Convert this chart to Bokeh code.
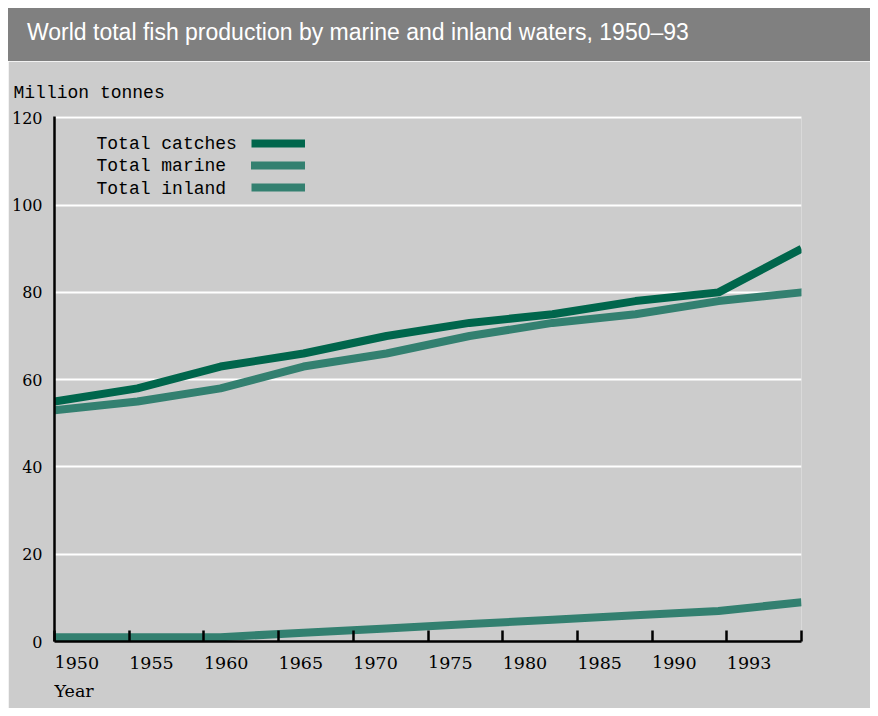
from bokeh.plotting import figure
from bokeh.models import (FixedTicker, Label, Legend, LegendItem, Div, ColumnDataSource, Title)
from bokeh.layouts import column
from bokeh.embed import file_html
from bokeh.resources import INLINE
import numpy as np

# ---- data ----
title_text = "World total fish production by marine and inland waters, 1950\u201393"
data_years = ["1950", "1955", "1960", "1965", "1970", "1975", "1980", "1985", "1990", "1993"]
total_catches = [55, 58, 63, 66, 70, 73, 75, 78, 80, 90]
total_marine = [53, 55, 58, 63, 66, 70, 73, 75, 78, 80]
total_inland = [1, 1, 1, 2, 3, 4, 5, 6, 7, 9]
tick_labels = ["1950", "1955", "1960", "1965", "1970", "1975", "1980", "1985", "1990", "1993", ""]
y_ticks = [0, 20, 40, 60, 80, 100, 120]
series_names = ["Total catches", "Total marine", "Total inland"]

BG = "#cccccc"
C_CATCH = "#00664c"
C_MARINE = "#338070"
MONO = "Liberation Mono"
SERIF = "DejaVu Serif"

x_idx = list(range(len(data_years)))
src = ColumnDataSource(dict(x=x_idx, catches=total_catches, marine=total_marine, inland=total_inland))

fig = figure(width=862, height=647, output_backend="svg", toolbar_location=None,
             x_range=(0, len(data_years) - 1), y_range=(0, 120.3),
             background_fill_color=BG, border_fill_color=BG, outline_line_color=None,
             min_border_left=45, min_border_right=69, min_border_top=55, min_border_bottom=67,
             margin=0)

r_catch = fig.line("x", "catches", source=src, line_color=C_CATCH, line_width=8)
r_marine = fig.line("x", "marine", source=src, line_color=C_MARINE, line_width=8,
                    line_cap="round", line_join="round")
r_inland = fig.line("x", "inland", source=src, line_color=C_MARINE, line_width=8)

# title over the y axis: "Million tonnes"
fig.title.text = "Million tonnes"
fig.title.align = "left"
fig.title.offset = -41
fig.title.text_font = MONO
fig.title.text_font_size = "18px"
fig.title.text_font_style = "normal"
fig.title.text_color = "black"
fig.title.standoff = 27

# grid
fig.xgrid.visible = False
fig.ygrid.ticker = FixedTicker(ticks=y_ticks)
fig.ygrid.grid_line_color = "white"
fig.ygrid.grid_line_width = 2
fig.ygrid.level = "underlay"

# y axis
ya = fig.yaxis[0]
ya.ticker = FixedTicker(ticks=y_ticks)
ya.axis_line_color = "black"
ya.axis_line_width = 2.5
ya.major_tick_in = 0
ya.major_tick_out = 0
ya.minor_tick_line_color = None
ya.major_label_standoff = 12
ya.major_label_text_font = SERIF
ya.major_label_text_font_size = "16px"
ya.major_label_text_color = "black"
ya.major_label_text_baseline = "top"

# x axis: labels left-aligned at the ticks (tiny negative orientation)
x_tick_pos = [float(v) for v in np.linspace(0, len(data_years) - 1, len(tick_labels))]
xa = fig.xaxis[0]
xa.ticker = FixedTicker(ticks=x_tick_pos)
xa.major_label_overrides = {pos: lab for pos, lab in zip(x_tick_pos, tick_labels)}
xa.major_label_orientation = -0.0001
xa.axis_line_color = "black"
xa.axis_line_width = 2.5
xa.major_tick_line_color = "black"
xa.major_tick_line_width = 2.5
xa.major_tick_in = 11
xa.major_tick_out = 0
xa.minor_tick_line_color = None
xa.major_label_standoff = 21
xa.major_label_text_font = SERIF
xa.major_label_text_font_size = "17.5px"
xa.major_label_text_color = "black"

fig.add_layout(Title(text="Year", align="left", text_font=SERIF, text_font_size="17.5px",
                     text_font_style="normal", text_color="black", standoff=2), "below")

# legend: swatches from legend, texts to the left
legend = Legend(items=[LegendItem(label=" ", renderers=[r]) for r in
                       [r_catch, r_marine, r_inland]],
                location=(197, 444), padding=0, margin=0, spacing=2,
                glyph_width=54, glyph_height=20, label_height=20, label_width=0,
                label_standoff=0, label_text_font=MONO, label_text_font_size="18px",
                background_fill_alpha=0, border_line_color=None)
fig.add_layout(legend)
for n, yy in zip(series_names, [114.0, 108.9, 103.8]):
    fig.add_layout(Label(x=0.506, y=yy, text=n, text_align="left", text_baseline="alphabetic",
                         text_font=MONO, text_font_size="18px", text_color="black"))

title_div = Div(text=('<div style="width:862px;height:53px;box-sizing:border-box;'
                      'background:#808080;color:white;font-family:\'Liberation Sans Narrow\','
                      '\'Liberation Sans\',sans-serif;font-size:23px;line-height:48px;'
                      'padding-left:19px;white-space:nowrap;">' + title_text + '</div>'),
                width=862, height=53, margin=0)

p = column(title_div, fig, spacing=0, margin=(8, 8, 8, 8))

open("out.html", "w").write(file_html(p, INLINE))
